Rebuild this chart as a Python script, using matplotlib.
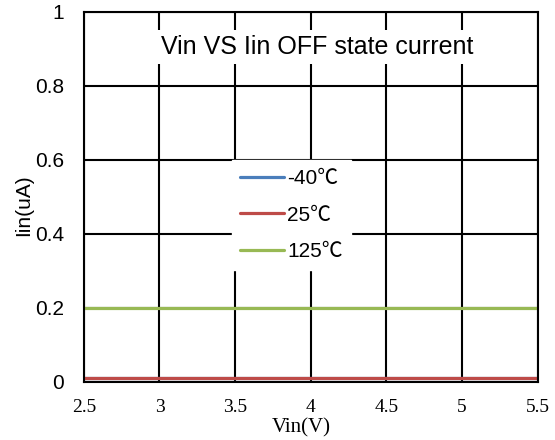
import matplotlib
matplotlib.use("Agg")
import matplotlib.pyplot as plt

plt.rcParams['font.family'] = ['Liberation Sans', 'DejaVu Sans']

vin = [2.5, 3, 3.5, 4, 4.5, 5, 5.5]
iin_m40 = [0.01, 0.01, 0.01, 0.01, 0.01, 0.01, 0.01]
iin_25 = [0.01, 0.01, 0.01, 0.01, 0.01, 0.01, 0.01]
iin_125 = [0.2, 0.2, 0.2, 0.2, 0.2, 0.2, 0.2]
xticks = [2.5, 3, 3.5, 4, 4.5, 5, 5.5]
yticks = [0, 0.2, 0.4, 0.6, 0.8, 1]

serif = ['Liberation Serif', 'DejaVu Serif']

fig = plt.figure(figsize=(5.55, 4.4), dpi=100)
ax = fig.add_axes([0.151, 0.132, 0.818, 0.841])

ax.plot(vin, iin_m40, color='#4a7ebb', lw=2.3, label='-40℃', solid_capstyle='round')
ax.plot(vin, iin_25, color='#be4b48', lw=2.3, label='25℃', solid_capstyle='round')
ax.plot(vin, iin_125, color='#98b954', lw=2.3, label='125℃', solid_capstyle='round')

ax.set_xlim(2.5, 5.5)
ax.set_ylim(0, 1)
ax.set_xticks(xticks)
ax.set_xticklabels(['2.5', '3', '3.5', '4', '4.5', '5', '5.5'], family=serif, fontsize=14)
ax.set_yticks(yticks)
ax.set_yticklabels(['0', '0.2', '0.4', '0.6', '0.8', '1'], fontsize=15)
ax.tick_params(axis='x', length=0, pad=12)
ax.tick_params(axis='y', length=0, pad=14)
ax.grid(True, color='black', lw=1.5)
ax.set_axisbelow(True)
for s in ax.spines.values():
    s.set_color('black')
    s.set_linewidth(1.5)

ax.set_xlabel('Vin(V)', family=serif, fontsize=15, va='top')
ax.xaxis.set_label_coords(0.48, -0.098)
ax.set_ylabel('Iin(uA)', fontsize=15)
ax.yaxis.set_label_coords(-0.112, 0.478)
ax.text(0.515, 0.905, 'Vin VS Iin OFF state current', transform=ax.transAxes,
        ha='center', va='center', fontsize=18,
        bbox=dict(facecolor='white', edgecolor='none', boxstyle='square,pad=0.2'))

leg = ax.legend(loc='center', bbox_to_anchor=(0.458, 0.451), frameon=True,
                fancybox=False, edgecolor='white', framealpha=1,
                prop={'family': ['Liberation Sans', 'Noto Sans CJK SC'], 'size': 15},
                handlelength=2.1, labelspacing=0.85, borderpad=0.4, handletextpad=0.15)

fig.savefig('out.png', dpi=100)
